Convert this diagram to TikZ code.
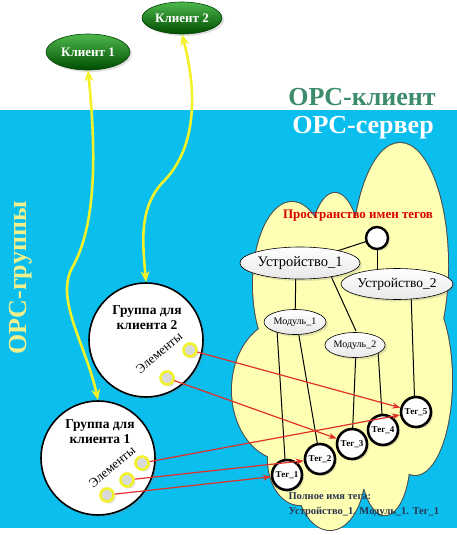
\documentclass[tikz,border=0pt]{standalone}
\usepackage{fontspec}
\setmainfont{Liberation Serif}
\usetikzlibrary{arrows.meta,shapes.geometric,shadows}
\definecolor{skyb}{HTML}{0ABEEE}
\definecolor{cloudy}{HTML}{FFFFB4}
\definecolor{opcgreen}{HTML}{3C8C6C}
\definecolor{grpyel}{HTML}{F0F08C}
\definecolor{yarr}{HTML}{F2F22A}
\definecolor{navy}{HTML}{2A3550}
\definecolor{redarr}{HTML}{E0302A}
\begin{document}
\begin{tikzpicture}[x=1pt,y=-1pt,
  shad/.style={drop shadow={opacity=0.25,shadow xshift=2pt,shadow yshift=-2pt}},
  tagc/.style={circle,draw,line width=2.6pt,fill=white,minimum size=30pt,inner sep=0pt,
    font=\bfseries\fontsize{9}{10}\selectfont,shad},
  ell/.style={ellipse,draw,line width=0.6pt,top color=white,bottom color=gray!18,inner sep=0pt,shad},
  client/.style={ellipse,draw=green!25!black,line width=0.6pt,top color=green!60!black!70,
    bottom color=green!30!black,inner sep=0pt,text=white,font=\bfseries\fontsize{13}{14}\selectfont,shad},
  grp/.style={circle,draw,line width=1.6pt,fill=white,minimum size=114pt,inner sep=0pt,shad},
  elem/.style={circle,draw=yarr,line width=2.6pt,fill=gray!30,minimum size=13pt,inner sep=0pt,shad},
  yline/.style={draw=yarr,line width=2.6pt,{Stealth[length=11pt,width=9pt]}-{Stealth[length=11pt,width=9pt]}},
  rline/.style={draw=redarr,line width=1.2pt,-{Stealth[length=8pt,width=6pt]}},
  tline/.style={draw=black,line width=1pt},
  gtext/.style={font=\bfseries\fontsize{13.5}{15}\selectfont,align=center},
  etext/.style={font=\fontsize{13}{14}\selectfont,rotate=40},
  big/.style={font=\bfseries\fontsize{26}{28}\selectfont}
]
\useasboundingbox (0,0) rectangle (457,535);
\fill[white] (0,0) rectangle (457,535);
\fill[skyb] (0,110) rectangle (457,528);

% cloud (union of ellipses)
\foreach \cx/\cy/\a/\b in {400/265/48/122, 335/265/27/72, 292/285/39/83, 285/390/53/70,
  300/460/32/45, 330/470/35/60, 385/455/25/60, 415/380/37/95, 350/380/90/110}
  \draw[line width=2pt,draw=black!70] (\cx,\cy) ellipse [x radius=\a pt,y radius=\b pt];
\foreach \cx/\cy/\a/\b in {400/265/48/122, 335/265/27/72, 292/285/39/83, 285/390/53/70,
  300/460/32/45, 330/470/35/60, 385/455/25/60, 415/380/37/95, 350/380/90/110}
  \fill[cloudy] (\cx,\cy) ellipse [x radius=\a pt,y radius=\b pt];

% titles
\node[big,text=opcgreen] (tcl) at (362,97) {OPC-клиент};
\node[big,text=white] (tsv) at (363,128) {OPC-сервер};
\node[big,text=grpyel,rotate=90] (tgr) at (21,278) {OPC-группы};

% tag namespace
\node[font=\bfseries\fontsize{13}{14}\selectfont,text=red!85!black] (tns) at (358,216) {Пространство имен тегов};
\coordinate (root) at (377,238);
\coordinate (u1) at (300,263);
\coordinate (u2) at (397,284);
\coordinate (m1) at (295,322);
\coordinate (m2) at (355,345);

\draw[tline] (377,238) -- (300,263);
\draw[tline] (377,238) -- (377,272);
\draw[tline] (296,263) -- (295,322);
\draw[tline] (330,274) -- (356,331);
\draw[tline] (277,330) -- (286,475);
\draw[tline] (298,330) -- (320,459);
\draw[tline] (356,350) -- (352,444);
\draw[tline] (378,350) -- (383,430);
\draw[tline] (411,292) -- (415,412);

\node[circle,draw,line width=2.4pt,fill=white,minimum size=22pt,inner sep=0pt,shad] (rootn) at (root) {};
\node[ell,minimum width=98pt,minimum height=32pt,font=\fontsize{14.5}{15}\selectfont] (u1n) at (u1) {Устройство\_1};
\node[ell,minimum width=90pt,minimum height=31pt,font=\fontsize{13.5}{14}\selectfont] (u2n) at (u2) {Устройство\_2};
\node[ell,minimum width=62pt,minimum height=25pt,font=\fontsize{10}{11}\selectfont] (m1n) at (m1) {Модуль\_1};
\node[ell,minimum width=58pt,minimum height=25pt,font=\fontsize{10}{11}\selectfont] (m2n) at (m2) {Модуль\_2};

\node[tagc] (t1) at (287,475) {Тег\_1};
\node[tagc] (t2) at (320,459) {Тег\_2};
\node[tagc] (t3) at (352,444) {Тег\_3};
\node[tagc] (t4) at (383,430) {Тег\_4};
\node[tagc] (t5) at (416,412) {Тег\_5};

% groups
\node[grp] (g2) at (146,340) {};
\node[grp] (g1) at (98,458) {};
\node[gtext] (g2t) at (147,318) {Группа для\\клиента 2};
\node[gtext] (g1t) at (100,432) {Группа для\\клиента 1};
\node[etext] (e2t) at (159,353) {Элементы};
\node[etext] (e1t) at (112,467) {Элементы};

\node[elem] (e21) at (190,350) {};
\node[elem] (e22) at (167,378) {};
\node[elem] (e11) at (142,463) {};
\node[elem] (e12) at (127,480) {};
\node[elem] (e13) at (107,495) {};

\draw[rline] (e21) -- (t5);
\draw[rline] (e22) -- (t3);
\draw[rline] (e11) -- (t5);
\draw[rline] (e12) -- (t2);
\draw[rline] (e13) -- (t1);

% full tag name
\node[anchor=west,align=left,text=navy,font=\bfseries\fontsize{10.5}{15}\selectfont] (full) at (285,505)
  {Полное имя тега:\\Устройство\_1. Модуль\_1. Тег\_1};

% clients
\node[client,minimum width=84pt,minimum height=36pt] (c1) at (88,52) {Клиент 1};
\node[client,minimum width=80pt,minimum height=32pt] (c2) at (182,18) {Клиент 2};

\draw[yline] (c1.south) .. controls (96,150) and (97,225) .. (72,268)
  .. controls (55,300) and (86,345) .. (g1.north);
\draw[yline] (c2.south) .. controls (198,95) and (196,150) .. (162,183)
  .. controls (138,210) and (143,245) .. (g2.north);
\end{tikzpicture}
\end{document}
